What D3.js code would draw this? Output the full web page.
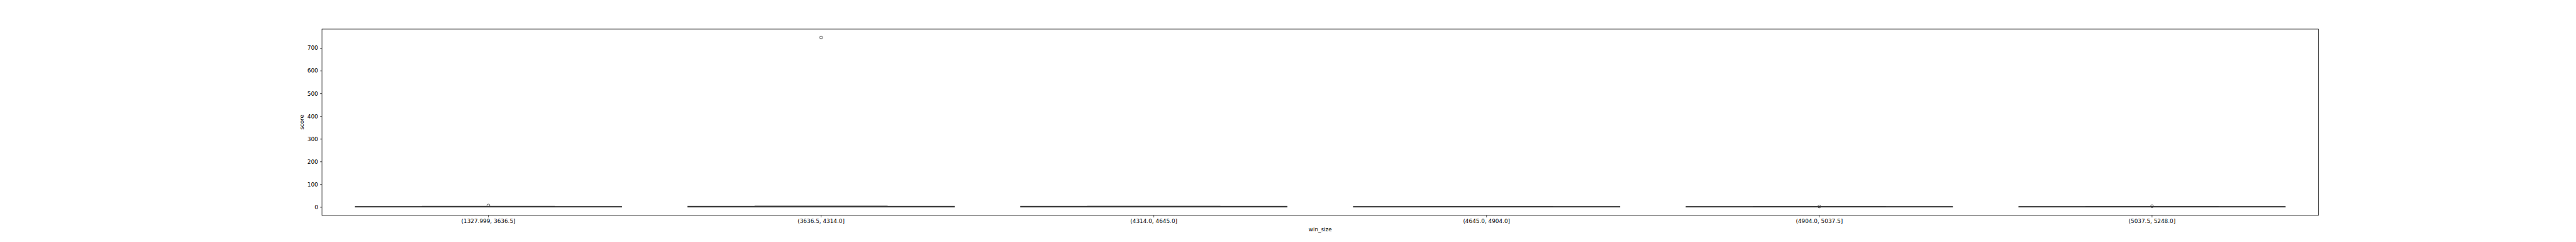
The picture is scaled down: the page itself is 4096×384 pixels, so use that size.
<!DOCTYPE html>
<html>
<head>
<meta charset="utf-8">
<script src="https://cdn.jsdelivr.net/npm/d3@7"></script>
<style>
  html, body { margin: 0; padding: 0; background: #fff; }
  svg { display: block; }
  text { font-family: "DejaVu Sans", sans-serif; fill: #000; }
</style>
</head>
<body>
<svg id="chart" width="4096" height="384"></svg>
<script>
// ---- data ----
const categories = ["(1327.999, 3636.5]", "(3636.5, 4314.0]", "(4314.0, 4645.0]", "(4645.0, 4904.0]", "(4904.0, 5037.5]", "(5037.5, 5248.0]"];
const whiskerLow  = [0, 0, 0, 0, 0, 0];
const quartile1   = [0, 0, 0, 0, 0, 0];
const medians     = [0, 1, 1, 0, 0, 0];
const quartile3   = [1, 2, 2, 1, 1, 1];
const whiskerHigh = [2, 3, 2, 1, 1, 1];
const fliers      = [[6], [746], [], [], [2], [3]];
const yTicks      = [0, 100, 200, 300, 400, 500, 600, 700];
const xLabel = "win_size";
const yLabel = "score";

// ---- layout ----
const s = 0.64;
const mLeft = 800 * s, mRight = 5760 * s, mTop = 72 * s, mBottom = 534 * s;
const fontSize = 13.9 * s;
const tickLen = 4.86 * s;
const tickPad = 4.86 * s;
const lineColor = "#3a3a3a";
const lw = 2.5 * s;

const svg = d3.select("#chart");

const boxes = categories.map((c, i) => ({
  cat: c, lo: whiskerLow[i], q1: quartile1[i], med: medians[i],
  q3: quartile3[i], hi: whiskerHigh[i], fl: fliers[i]
}));

const allVals = boxes.flatMap(b => [b.lo, b.hi, ...b.fl]);
const dmin = d3.min(allVals), dmax = d3.max(allVals);
const pad = (dmax - dmin) * 0.05;

const x = d3.scaleBand().domain(categories).range([mLeft, mRight]).paddingInner(0).paddingOuter(0);
const y = d3.scaleLinear().domain([dmin - pad, dmax + pad]).range([mBottom, mTop]);

const bw = x.bandwidth() * 0.8;
const capw = bw * 0.5;

const g = svg.append("g");

boxes.forEach(b => {
  const cx = x(b.cat) + x.bandwidth() / 2;
  // whiskers
  g.append("line").attr("x1", cx).attr("x2", cx).attr("y1", y(b.q1)).attr("y2", y(b.lo))
    .attr("stroke", lineColor).attr("stroke-width", lw);
  g.append("line").attr("x1", cx).attr("x2", cx).attr("y1", y(b.q3)).attr("y2", y(b.hi))
    .attr("stroke", lineColor).attr("stroke-width", lw);
  // caps
  [b.lo, b.hi].forEach(v => {
    g.append("line").attr("x1", cx - capw / 2).attr("x2", cx + capw / 2)
      .attr("y1", y(v)).attr("y2", y(v))
      .attr("stroke", "#4f4f4f").attr("stroke-width", lw);
  });
  // box
  g.append("rect").attr("x", cx - bw / 2).attr("width", bw)
    .attr("y", y(b.q3)).attr("height", Math.max(0, y(b.q1) - y(b.q3)))
    .attr("fill", "#444444").attr("stroke", lineColor).attr("stroke-width", lw);
  // median
  g.append("line").attr("x1", cx - bw / 2).attr("x2", cx + bw / 2)
    .attr("y1", y(b.med)).attr("y2", y(b.med))
    .attr("stroke", lineColor).attr("stroke-width", lw);
  // fliers
  b.fl.forEach(v => {
    g.append("circle").attr("cx", cx).attr("cy", y(v)).attr("r", 3.6 * s)
      .attr("fill", "none").attr("stroke", lineColor).attr("stroke-width", 1.3 * s);
  });
});

// ---- axes ----
const xAxis = d3.axisBottom(x).tickSize(tickLen).tickPadding(tickPad);
const gx = svg.append("g").attr("transform", `translate(0,${mBottom})`).call(xAxis);
gx.select(".domain").remove();
gx.selectAll(".tick line").attr("stroke", "#000").attr("stroke-width", 1.11 * s);
gx.selectAll(".tick text").attr("font-size", fontSize).attr("font-family", "DejaVu Sans").attr("fill", "#000");

const yAxis = d3.axisLeft(y).tickValues(yTicks).tickFormat(d3.format("d")).tickSize(tickLen).tickPadding(tickPad);
const gy = svg.append("g").attr("transform", `translate(${mLeft},0)`).call(yAxis);
gy.select(".domain").remove();
gy.selectAll(".tick line").attr("stroke", "#000").attr("stroke-width", 1.11 * s);
gy.selectAll(".tick text").attr("font-size", fontSize).attr("font-family", "DejaVu Sans").attr("fill", "#000");

// frame
svg.append("rect").attr("x", mLeft).attr("y", mTop).attr("width", mRight - mLeft).attr("height", mBottom - mTop)
  .attr("fill", "none").attr("stroke", "#000").attr("stroke-width", 1.11 * s);

// labels
svg.append("text").attr("x", (mLeft + mRight) / 2).attr("y", 574 * s)
  .attr("text-anchor", "middle").attr("font-size", fontSize).text(xLabel);
svg.append("text").attr("transform", `translate(${755 * s},${(mTop + mBottom) / 2}) rotate(-90)`)
  .attr("text-anchor", "middle").attr("font-size", fontSize).text(yLabel);
</script>
</body>
</html>
